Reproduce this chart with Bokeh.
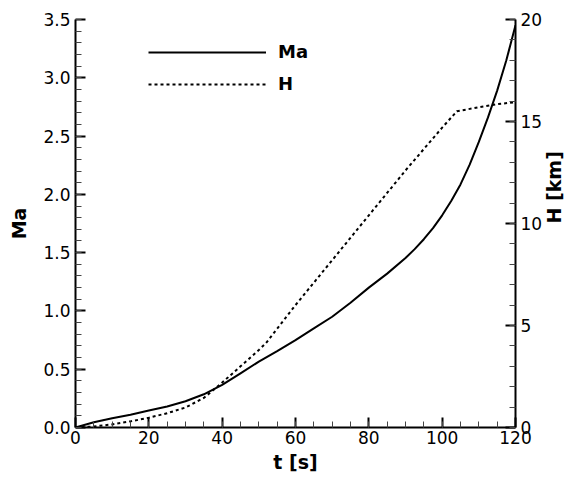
import math
from bokeh.plotting import figure
from bokeh.models import (Range1d, LinearAxis, SingleIntervalTicker, Legend,
                          LegendItem, PrintfTickFormatter)
from bokeh.embed import file_html
from bokeh.resources import INLINE

# ---- data ----
t_ma = [0, 5, 10, 15, 20, 25, 30, 35, 40, 45, 50, 55, 60, 65, 70, 75, 80, 85,
        90, 92.5, 95, 97.5, 100, 102.5, 105, 107.5, 110, 112.5, 115, 117.5, 120]
ma = [0, 0.045, 0.08, 0.11, 0.145, 0.18, 0.225, 0.285, 0.365, 0.465, 0.565,
      0.656, 0.75, 0.85, 0.95, 1.07, 1.20, 1.32, 1.454, 1.53, 1.615, 1.71,
      1.82, 1.945, 2.085, 2.255, 2.45, 2.66, 2.89, 3.15, 3.45]

t_h = [0, 5, 10, 15, 20, 25, 30, 35, 40, 45, 50, 52, 60, 70, 80, 90, 100, 104,
       110, 115, 120]
h_km = [0, 0.05, 0.15, 0.3, 0.48, 0.7, 0.98, 1.45, 2.2, 3.0, 3.8, 4.15, 6.0,
        8.2, 10.4, 12.6, 14.7, 15.5, 15.7, 15.85, 15.95]

x_label = "t [s]"
y_label = "Ma"
y2_label = "H [km]"
series_names = ["Ma", "H"]

FONT = "DejaVu Sans"

p = figure(width=579, height=477, output_backend="svg", toolbar_location=None,
           x_range=Range1d(0, 120), y_range=Range1d(0, 3.5),
           min_border_left=75, min_border_right=57, min_border_top=19,
           min_border_bottom=50, x_axis_location=None, y_axis_location=None)
p.extra_y_ranges = {"H": Range1d(0, 20)}
p.xgrid.visible = False
p.ygrid.visible = False
p.outline_line_color = None
p.background_fill_color = "white"
p.border_fill_color = "white"

def style(ax, tick_standoff, lab_standoff):
    ax.axis_line_width = 2
    ax.axis_line_color = "black"
    ax.major_tick_line_width = 2
    ax.major_tick_in = 10
    ax.major_tick_out = 0
    ax.minor_tick_in = 6
    ax.minor_tick_out = 0
    ax.minor_tick_line_width = 1
    ax.minor_tick_line_color = "#444444"
    ax.major_label_text_font = FONT
    ax.major_label_text_font_size = "17px"
    ax.major_label_text_color = "black"
    ax.major_label_standoff = tick_standoff
    ax.axis_label_text_font = FONT
    ax.axis_label_text_font_style = "bold"
    ax.axis_label_text_font_size = "19px"
    ax.axis_label_text_color = "black"
    ax.axis_label_standoff = lab_standoff

xax = LinearAxis(ticker=SingleIntervalTicker(interval=20, num_minor_ticks=4),
                 axis_label=x_label)
style(xax, 3, 4)
p.add_layout(xax, "below")

yax = LinearAxis(ticker=SingleIntervalTicker(interval=0.5, num_minor_ticks=5),
                 axis_label=y_label, formatter=PrintfTickFormatter(format="%.1f"))
style(yax, 5, 10)
p.add_layout(yax, "left")

y2ax = LinearAxis(y_range_name="H",
                  ticker=SingleIntervalTicker(interval=5, num_minor_ticks=5),
                  axis_label=y2_label)
style(y2ax, 5, 9)
if "axis_label_orientation" in y2ax.properties():
    y2ax.axis_label_orientation = math.pi / 2
p.add_layout(y2ax, "right")

r1 = p.line(t_ma, ma, line_color="black", line_width=2)
r2 = p.line(t_h, h_km, line_color="black", line_width=2, line_dash="3 3",
            y_range_name="H")

legend = Legend(items=[LegendItem(label=series_names[0], renderers=[r1]),
                       LegendItem(label=series_names[1], renderers=[r2])],
                location=(73, 333))
legend.padding = 0
legend.margin = 0
legend.border_line_color = None
legend.background_fill_alpha = 0
legend.glyph_width = 118
legend.glyph_height = 20
legend.label_height = 20
legend.spacing = 11
legend.label_standoff = 12
legend.label_text_font = FONT
legend.label_text_font_style = "bold"
legend.label_text_font_size = "18px"
legend.label_text_color = "black"
p.add_layout(legend, "center")

open("out.html", "w").write(file_html(p, INLINE))
